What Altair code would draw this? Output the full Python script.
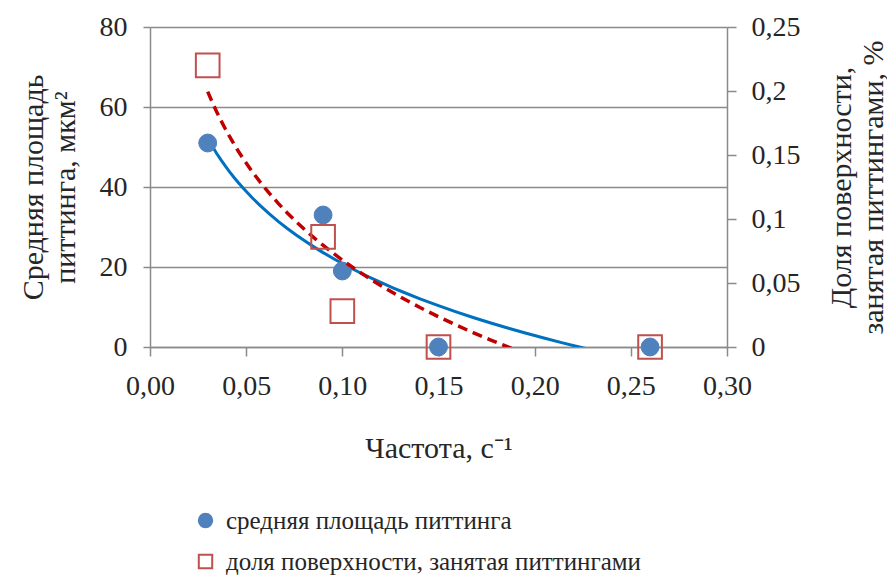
import altair as alt
import pandas as pd

# ---- data ----
freq = [0.03, 0.09, 0.10, 0.15, 0.26]
area = [51, 33, 19, 0, 0]              # left axis, мкм²
share = [0.22, 0.086, 0.028, 0, 0]     # right axis, %
series_names = ["средняя площадь питтинга", "доля поверхности, занятая питтингами"]

x_ticks = [0, 0.05, 0.10, 0.15, 0.20, 0.25, 0.30]
left_ticks = [0, 20, 40, 60, 80]
right_ticks = [0, 0.05, 0.10, 0.15, 0.20, 0.25]

x_title = "Частота, с⁻¹"
left_title = ["Средняя площадь", "питтинга, мкм²"]
right_title = ["Доля поверхности,", "занятая питтингами, %"]

df_area = pd.DataFrame({"freq": freq, "val": area, "series": series_names[0]})
df_share = pd.DataFrame({"freq": freq, "val": share, "series": series_names[1]})

FONT = "Liberation Serif"
GRAY = "#8a8a8a"
TXT = "#262626"
BLUE_PT = "#4f81bd"
RED_PT = "#c0504d"
BLUE_LINE = "#0070c0"
RED_LINE = "#c00000"

x_enc = alt.X(
    "freq:Q",
    scale=alt.Scale(domain=[0, 0.3], nice=False, zero=False),
    axis=alt.Axis(
        values=x_ticks,
        labelExpr="replace(format(datum.value, '.2f'), '.', ',')",
        title=x_title,
        grid=False,
        tickSize=9,
        labelPadding=16,
        titleFontSize=30,
        titleY=110,
        titleBaseline="alphabetic",
    ),
)

yl_enc = alt.Y(
    "val:Q",
    scale=alt.Scale(domain=[0, 80], nice=False),
    axis=alt.Axis(
        orient="left",
        values=left_ticks,
        grid=True,
        gridColor=GRAY,
        gridWidth=1.5,
        tickSize=7,
        labelPadding=16,
        title=left_title,
        titleAngle=270,
        titleFontSize=30,
        titleLineHeight=32,
        titleX=-117,
        titleY=160,
        titleAlign="center",
        titleBaseline="middle",
    ),
)

yr_enc = alt.Y(
    "val:Q",
    scale=alt.Scale(domain=[0, 0.25], nice=False),
    axis=alt.Axis(
        orient="right",
        values=right_ticks,
        grid=False,
        tickSize=9,
        labelPadding=15,
        labelExpr="replace(format(datum.value, '~g'), '.', ',')",
        title=right_title,
        titleAngle=270,
        titleFontSize=30,
        titleLineHeight=32,
        titleX=114,
        titleY=160,
        titleAlign="center",
        titleBaseline="middle",
    ),
)

legend = alt.Legend(
    title=None,
    orient="none",
    legendX=43,
    legendY=481,
    direction="vertical",
    labelFont=FONT,
    labelFontSize=25,
    labelColor=TXT,
    labelLimit=900,
    labelOffset=8,
    symbolSize=180,
    symbolStrokeWidth=2,
    rowPadding=15,
    padding=0,
)

fill_enc = alt.Fill("series:N", scale=alt.Scale(domain=series_names, range=[BLUE_PT, "transparent"]), legend=legend)
stroke_enc = alt.Stroke("series:N", scale=alt.Scale(domain=series_names, range=[BLUE_PT, RED_PT]), legend=legend)
shape_enc = alt.Shape("series:N", scale=alt.Scale(domain=series_names, range=["circle", "square"]), legend=legend)

blue_line = (
    alt.Chart(df_area)
    .transform_regression("freq", "val", method="log", extent=[0.03, 0.26])
    .mark_line(color=BLUE_LINE, strokeWidth=3, clip=True)
    .encode(x=x_enc, y=yl_enc)
)
blue_pts = (
    alt.Chart(df_area)
    .mark_point(opacity=1, strokeWidth=1, size=320)
    .encode(x=x_enc, y=yl_enc, fill=fill_enc, stroke=stroke_enc, shape=shape_enc)
)

red_line = (
    alt.Chart(df_share)
    .transform_regression("freq", "val", method="log", extent=[0.03, 0.26])
    .mark_line(color=RED_LINE, strokeWidth=3.5, strokeDash=[10, 6], clip=True)
    .encode(x=x_enc, y=yr_enc)
)
red_pts = (
    alt.Chart(df_share)
    .mark_point(opacity=1, strokeWidth=2, size=560)
    .encode(x=x_enc, y=yr_enc, fill=fill_enc, stroke=stroke_enc, shape=shape_enc)
)

left = alt.layer(blue_line, blue_pts)
right = alt.layer(red_line, red_pts)

chart = (
    alt.layer(left, right)
    .resolve_scale(y="independent")
    .properties(
        width=577,
        height=320,
        autosize=alt.AutoSizeParams(type="none"),
        padding={"left": 142, "top": 19, "right": 160, "bottom": 228},
        background="white",
    )
    .configure(font=FONT)
    .configure_view(stroke="transparent")
    .configure_axis(
        labelFont=FONT,
        titleFont=FONT,
        labelFontSize=28,
        labelColor=TXT,
        titleColor=TXT,
        titleFontWeight="normal",
        domainColor=GRAY,
        domainWidth=1.5,
        tickColor=GRAY,
        tickWidth=1.5,
        labelFlush=False,
        labelOverlap=False,
    )
    .configure_legend(
        labelFont=FONT,
        labelFontSize=25,
        labelColor=TXT,
        labelLimit=900,
    )
)

chart.save("out.html", embed_options={"renderer": "svg", "actions": False})
